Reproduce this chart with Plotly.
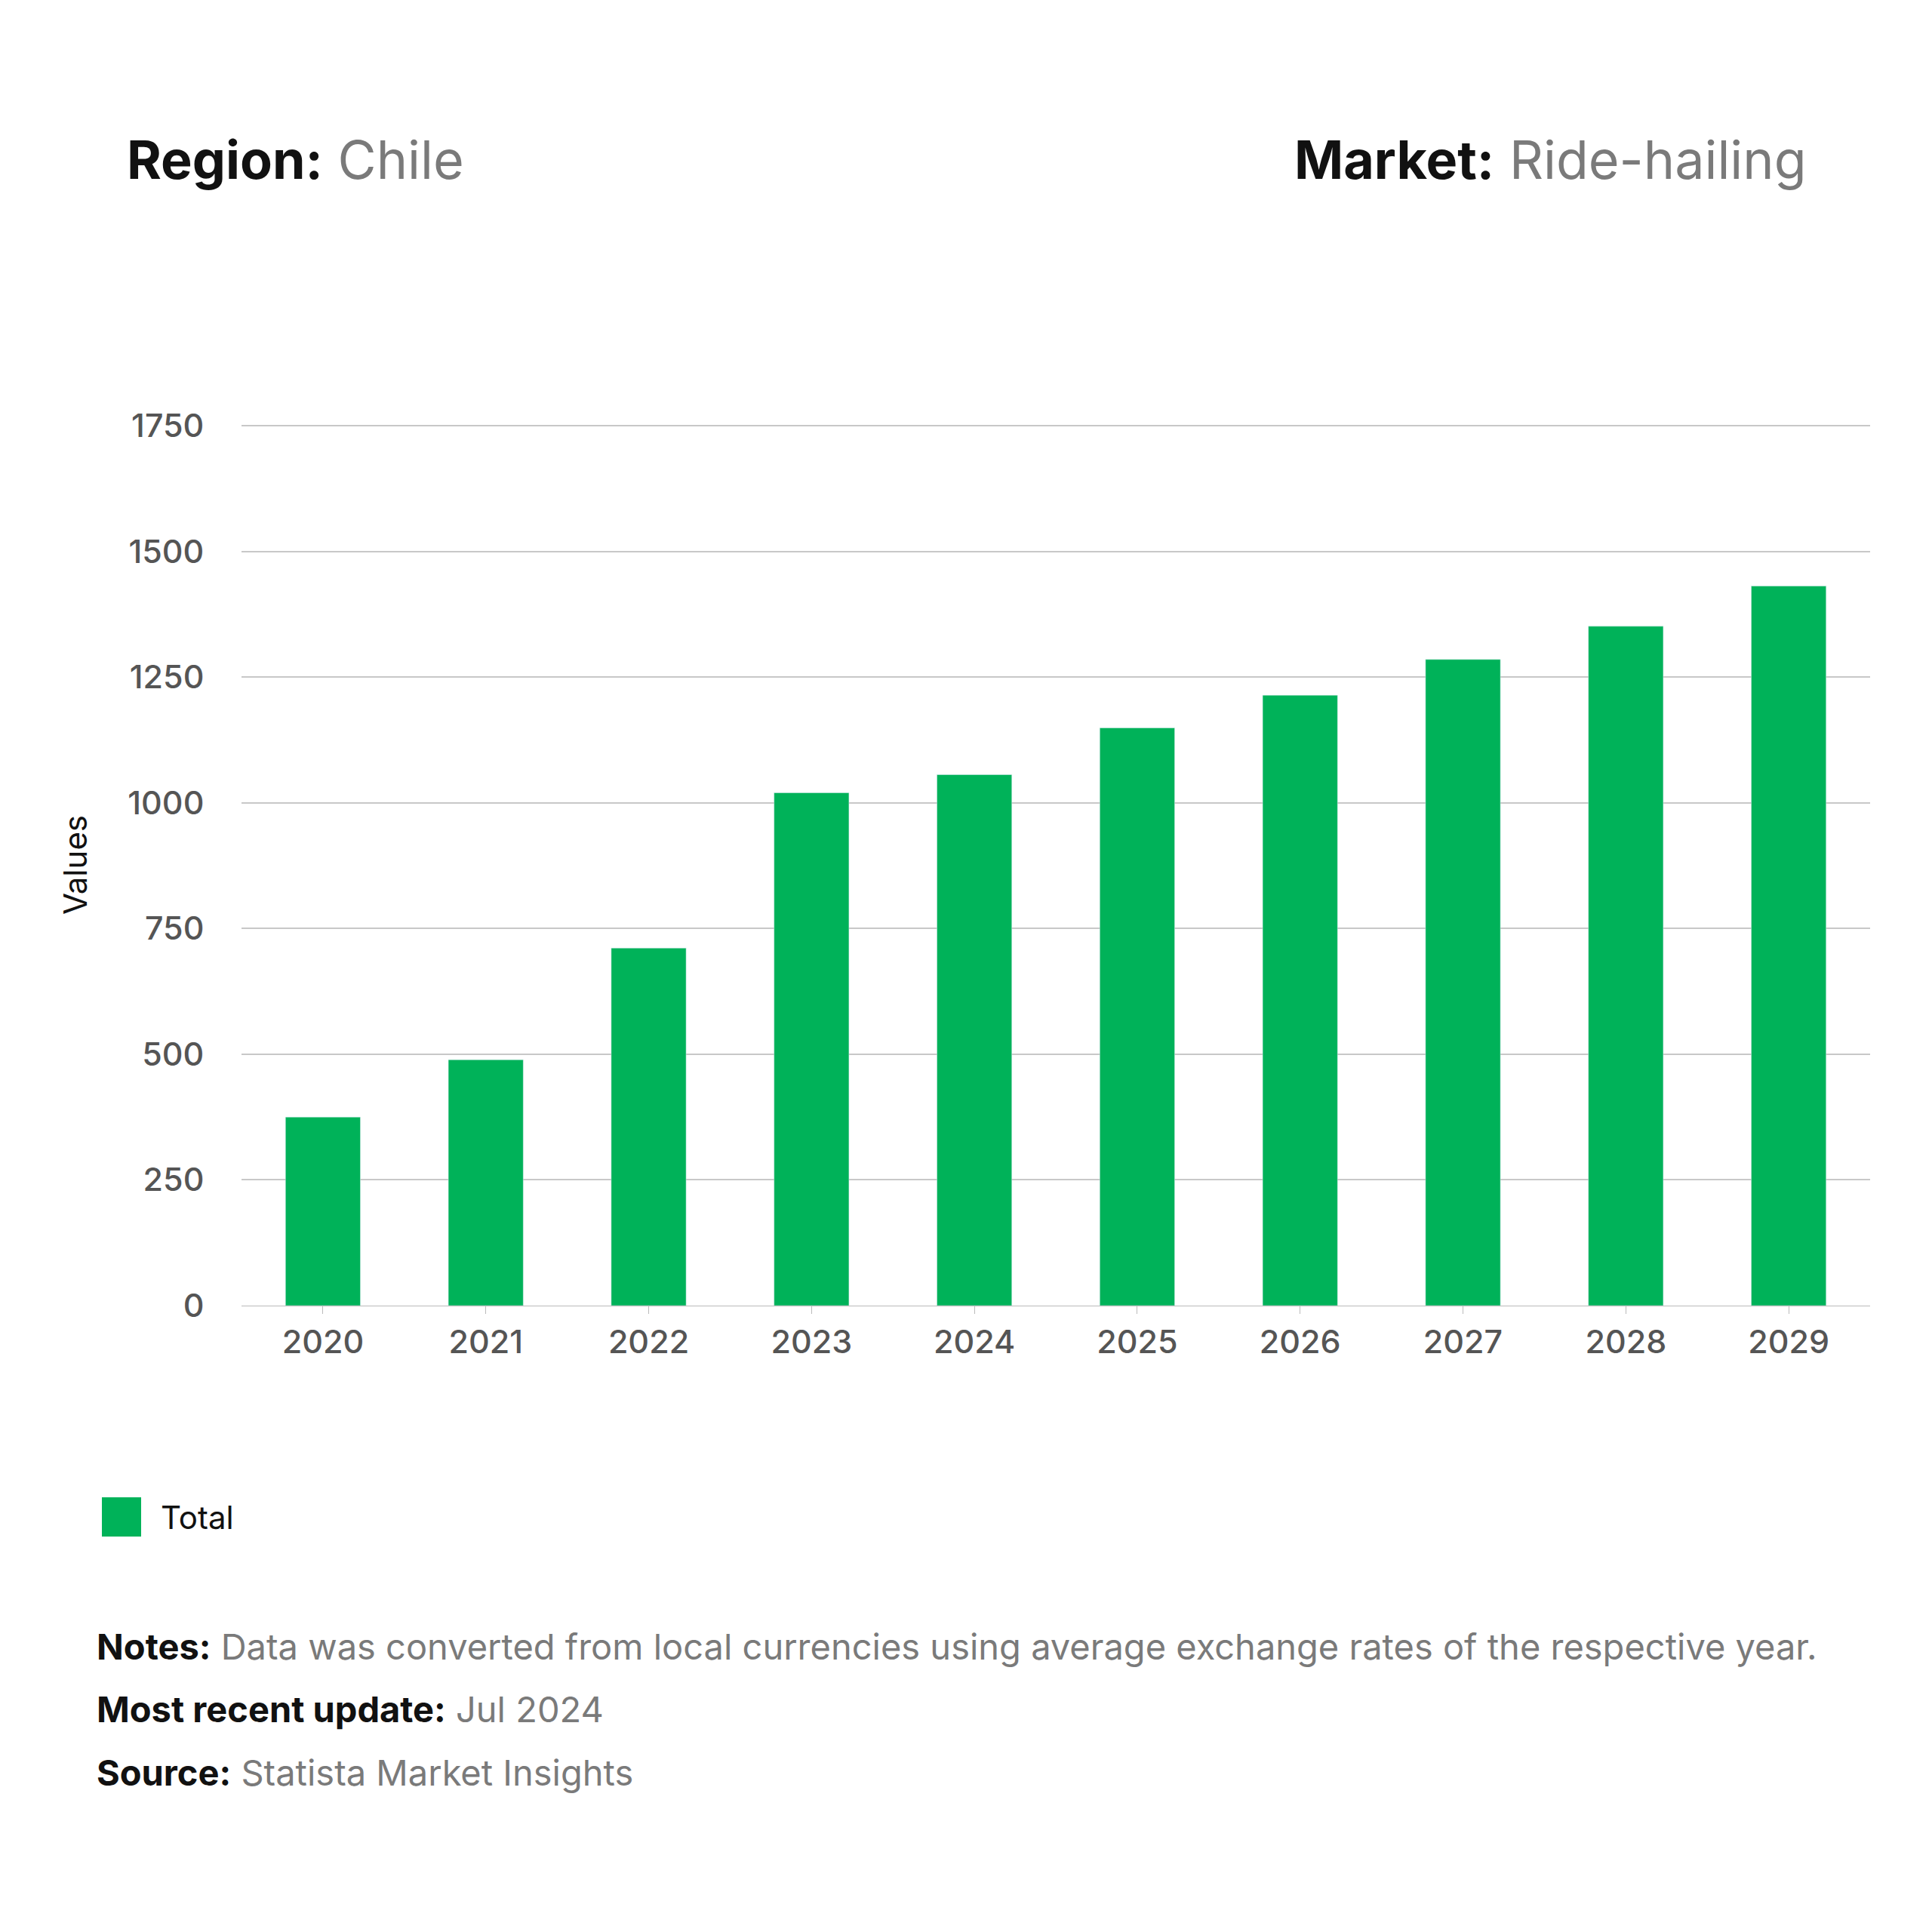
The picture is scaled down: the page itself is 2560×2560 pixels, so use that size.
import plotly.graph_objects as go

years = ["2020", "2021", "2022", "2023", "2024", "2025", "2026", "2027", "2028", "2029"]
totals = [375, 489, 711, 1020, 1056, 1149, 1214, 1285, 1351, 1431]
y_ticks = [0, 250, 500, 750, 1000, 1250, 1500, 1750]

W = H = 2560
L, R, T, B = 312, 90, 554, 838
GREEN = "#00b259"
FONT = "Inter"


def px(x, y):
    # pixel position -> paper coordinates
    return (x - L) / (W - L - R), (H - B - y) / (H - T - B)


fig = go.Figure()
fig.add_trace(go.Bar(x=years, y=totals, name="Total", marker_color=GREEN, width=0.46,
                     showlegend=False))

ann = []


def label(x, y, bold, light, size, anchor="left"):
    xp, yp = px(x, y)
    ann.append(dict(
        x=xp, y=yp, xref="paper", yref="paper", xanchor=anchor, yanchor="middle",
        showarrow=False, font=dict(family=FONT, size=size),
        text=f"<b><span style='color:#111'>{bold}</span></b> <span style='color:#7a7a7a'>{light}</span>",
    ))


label(158, 203, "Region:", "Chile", 70)
label(2388, 203, "Market:", "Ride-hailing", 70, anchor="right")
label(118, 2173, "Notes:", "Data was converted from local currencies using average exchange rates of the respective year.", 47)
label(118, 2256, "Most recent update:", "Jul 2024", 47)
label(118, 2340, "Source:", "Statista Market Insights", 47)

# legend: square swatch + label
x0, y0 = px(127, 1976)
x1, y1 = px(179, 2028)
fig.add_shape(type="rect", xref="paper", yref="paper", x0=x0, x1=x1, y0=y1, y1=y0,
              fillcolor=GREEN, line_width=0)
lx, ly = px(203, 2002)
ann.append(dict(x=lx, y=ly, xref="paper", yref="paper", xanchor="left", yanchor="middle",
                showarrow=False, text="Total", font=dict(family=FONT, size=42, color="#111")))

fig.update_layout(
    width=W, height=H,
    margin=dict(l=L, r=R, t=T, b=B),
    paper_bgcolor="white", plot_bgcolor="white",
    font=dict(family=FONT, color="#666"),
    annotations=ann,
    showlegend=False,
    xaxis=dict(
        tickfont=dict(size=43, color="#555", weight=500), showline=True, linecolor="#bbb",
        ticks="outside", tickcolor="#bbb", ticklen=10, showgrid=False,
    ),
    yaxis=dict(
        range=[0, 1753], tickvals=y_ticks, tickfont=dict(size=43, color="#555", weight=500),
        gridcolor="#c8c8c8", gridwidth=2, zeroline=False, ticklen=40, ticks="outside", tickcolor="white",
        title=dict(text="Values", font=dict(size=42, color="#111"), standoff=40),
    ),
)

fig.write_html("out.html")
